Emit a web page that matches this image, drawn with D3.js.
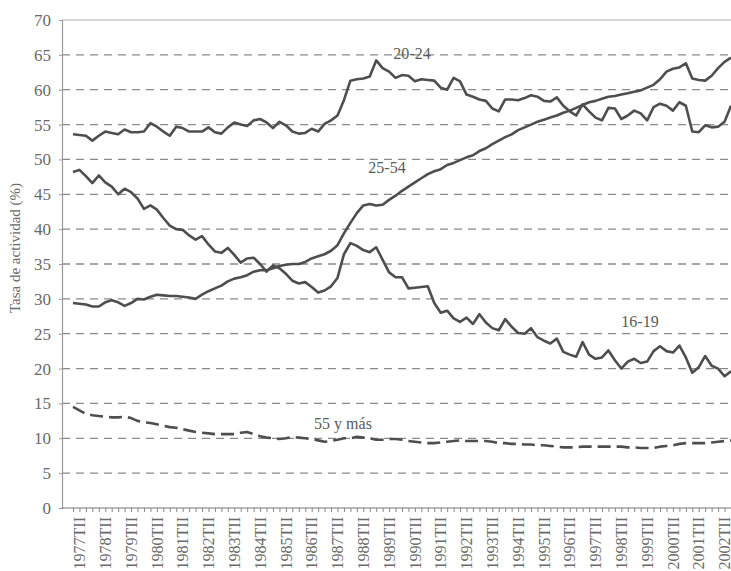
<!DOCTYPE html>
<html>
<head>
<meta charset="utf-8">
<script src="https://cdn.jsdelivr.net/npm/d3@7/dist/d3.min.js"></script>
<style>
  body { margin: 0; background: #fff; }
  svg { display: block; font-family: "Liberation Serif", "DejaVu Serif", serif; }
</style>
</head>
<body>
<svg id="chart"></svg>
<script>
/* quarters: 1977TII .. 2002TIV */
var START_YEAR = 1977, END_YEAR = 2002;
var QUARTER_NAMES = ["TI", "TII", "TIII", "TIV"];
var TICK_LABELS = ["1977TII", "1978TII", "1979TII", "1980TII", "1981TII", "1982TII", "1983TII",
    "1984TII", "1985TII", "1986TII", "1987TII", "1988TII", "1989TII", "1990TII", "1991TII",
    "1992TII", "1993TII", "1994TII", "1995TII", "1996TII", "1997TII", "1998TII", "1999TII",
    "2000TII", "2001TII", "2002TII"];
var Y_TICKS = [0, 5, 10, 15, 20, 25, 30, 35, 40, 45, 50, 55, 60, 65, 70];

var S_20_24 = [53.6, 53.5, 53.4, 52.7, 53.4, 54.0, 53.8, 53.6, 54.3, 53.9, 53.9, 54.0, 55.2, 54.7, 54.0, 53.4,
    54.7, 54.5, 54.0, 54.0, 54.0, 54.6, 53.9, 53.7, 54.6, 55.3, 55.0, 54.8, 55.6, 55.8, 55.3, 54.5,
    55.4, 54.9, 54.0, 53.7, 53.8, 54.4, 54.0, 55.1, 55.6, 56.3, 58.5, 61.3, 61.5, 61.6, 61.9, 64.2,
    63.1, 62.6, 61.7, 62.1, 62.0, 61.2, 61.5, 61.4, 61.3, 60.3, 60.0, 61.7, 61.2, 59.3, 59.0, 58.6,
    58.4, 57.3, 56.9, 58.6, 58.6, 58.5, 58.8, 59.2, 59.0, 58.4, 58.3, 58.9, 57.7, 56.9, 56.3, 57.9,
    56.9, 56.0, 55.6, 57.4, 57.3, 55.8, 56.3, 57.0, 56.6, 55.6, 57.5, 58.0, 57.7, 57.0, 58.2, 57.7,
    54.0, 53.9, 54.9, 54.6, 54.7, 55.4, 57.7];

var S_25_54 = [29.4, 29.3, 29.2, 28.9, 28.9, 29.5, 29.8, 29.5, 29.0, 29.4, 30.0, 29.9, 30.3, 30.6, 30.5, 30.4,
    30.4, 30.3, 30.2, 30.0, 30.6, 31.1, 31.5, 31.9, 32.5, 32.9, 33.1, 33.4, 33.9, 34.1, 34.1, 34.4,
    34.7, 34.9, 35.0, 35.0, 35.3, 35.8, 36.1, 36.4, 36.9, 37.7, 39.4, 40.9, 42.3, 43.4, 43.6, 43.4,
    43.5, 44.2, 44.8, 45.5, 46.1, 46.7, 47.3, 47.9, 48.3, 48.6, 49.2, 49.5, 49.9, 50.3, 50.6, 51.2,
    51.6, 52.2, 52.7, 53.2, 53.6, 54.2, 54.6, 55.0, 55.4, 55.7, 56.0, 56.3, 56.7, 57.0, 57.4, 57.8,
    58.2, 58.4, 58.7, 59.0, 59.1, 59.3, 59.5, 59.7, 59.9, 60.3, 60.7, 61.5, 62.6, 63.0, 63.2, 63.8,
    61.6, 61.4, 61.3, 62.0, 63.1, 64.0, 64.6];

var S_16_19 = [48.2, 48.5, 47.6, 46.6, 47.7, 46.7, 46.1, 45.0, 45.8, 45.3, 44.4, 42.9, 43.4, 42.8, 41.6, 40.5,
    40.0, 39.9, 39.1, 38.5, 39.0, 37.8, 36.8, 36.6, 37.3, 36.3, 35.2, 35.8, 35.9, 35.0, 33.9, 34.8,
    34.4, 33.6, 32.6, 32.2, 32.4, 31.7, 30.9, 31.2, 31.8, 33.0, 36.4, 38.0, 37.6, 37.0, 36.7, 37.4,
    35.6, 33.8, 33.1, 33.1, 31.5, 31.6, 31.7, 31.8, 29.4, 28.0, 28.3, 27.2, 26.7, 27.3, 26.4, 27.8,
    26.6, 25.8, 25.5, 27.1, 26.0, 25.1, 25.0, 25.8, 24.5, 24.0, 23.6, 24.3, 22.4, 22.0, 21.7, 23.8,
    22.0, 21.4, 21.6, 22.6, 21.2, 20.0, 21.0, 21.4, 20.8, 21.0, 22.5, 23.2, 22.5, 22.3, 23.3, 21.6,
    19.4, 20.2, 21.8, 20.4, 20.0, 18.9, 19.6];

var S_55_MAS = [14.5, 14.0, 13.5, 13.3, 13.2, 13.1, 13.0, 13.0, 13.1, 12.9, 12.5, 12.3, 12.2, 12.0, 11.8, 11.6,
    11.5, 11.3, 11.1, 10.9, 10.8, 10.7, 10.6, 10.6, 10.6, 10.6, 10.8, 10.9, 10.6, 10.3, 10.1, 10.0,
    9.9, 10.0, 10.2, 10.1, 10.0, 9.9, 9.7, 9.5, 9.6, 9.8, 10.0, 10.0, 10.2, 10.1, 10.0, 9.8,
    9.8, 9.9, 9.9, 9.8, 9.6, 9.5, 9.4, 9.3, 9.3, 9.4, 9.5, 9.6, 9.7, 9.6, 9.6, 9.6,
    9.6, 9.5, 9.3, 9.3, 9.2, 9.2, 9.1, 9.1, 9.0, 9.0, 8.9, 8.8, 8.7, 8.7, 8.7, 8.8,
    8.8, 8.8, 8.8, 8.8, 8.8, 8.8, 8.7, 8.7, 8.6, 8.6, 8.6, 8.8, 8.9, 9.0, 9.2, 9.3,
    9.3, 9.3, 9.3, 9.4, 9.5, 9.6, 9.7];

var SERIES_NAMES = ["20-24", "25-54", "16-19", "55 y más"];

var chartW = 731, chartH = 571;
var plotLeft = 62, plotTop = 20, plotBottom = 508;

// build the quarter categories
var quarters = [];
for (var yr = START_YEAR; yr <= END_YEAR; yr++) {
    for (var q = 0; q < 4; q++) {
        if (yr == START_YEAR && q == 0) continue;
        quarters.push(yr + QUARTER_NAMES[q]);
    }
}

var svg = d3.select("#chart").attr("width", chartW).attr("height", chartH);

var x = d3.scalePoint().domain(quarters).range([73, 731]);
var yScale = d3.scaleLinear().domain([0, 70]).range([plotBottom, plotTop]);

// horizontal dashed grid
svg.append("g").selectAll("line")
    .data(Y_TICKS.filter(function(d) { return d > 0 && d < 70; }))
    .enter().append("line")
    .attr("x1", plotLeft).attr("x2", chartW)
    .attr("y1", function(d) { return yScale(d); })
    .attr("y2", function(d) { return yScale(d); })
    .attr("stroke", "#8a8a8a").attr("stroke-width", 1.3)
    .attr("stroke-dasharray", "8,6");

// top border
svg.append("line")
    .attr("x1", plotLeft).attr("x2", chartW)
    .attr("y1", yScale(70)).attr("y2", yScale(70))
    .attr("stroke", "#b0b0b0").attr("stroke-width", 1.2);

// y axis
var yAxis = svg.append("g").attr("transform", "translate(" + plotLeft + ",0)")
    .call(d3.axisLeft(yScale).tickValues(Y_TICKS).tickSize(3).tickPadding(8));
yAxis.select(".domain").attr("stroke", "#999").attr("stroke-width", 1.2);
yAxis.selectAll(".tick line").attr("stroke", "#999");
yAxis.selectAll("text").attr("fill", "#6a6a6a").style("font-size", "17px")
    .style("font-family", "Liberation Serif, serif");

// x axis: tick every quarter, label on TII only
var xAxis = svg.append("g").attr("transform", "translate(0," + plotBottom + ")")
    .call(d3.axisBottom(x).tickSize(4)
        .tickFormat(function(d) { return TICK_LABELS.indexOf(d) >= 0 ? d : ""; }));
xAxis.select(".domain").attr("d", "M" + plotLeft + ",0H" + chartW).attr("stroke", "#777").attr("stroke-width", 1.2);
xAxis.selectAll(".tick line").attr("stroke", "#888");
xAxis.selectAll("text")
    .attr("transform", "rotate(-90)")
    .attr("x", -9).attr("y", 6).attr("dy", "0.35em")
    .attr("text-anchor", "end")
    .attr("fill", "#6a6a6a")
    .style("font-size", "16px")
    .style("font-family", "Liberation Serif, serif");

// y title
svg.append("text")
    .attr("transform", "translate(20,248) rotate(-90)")
    .attr("text-anchor", "middle")
    .attr("fill", "#6a6a6a")
    .style("font-size", "15px")
    .text("Tasa de actividad (%)");

var line = d3.line()
    .x(function(d, i) { return x(quarters[i]); })
    .y(function(d) { return yScale(d); });

var lines = [
    {values: S_20_24, dash: null},
    {values: S_25_54, dash: null},
    {values: S_16_19, dash: null},
    {values: S_55_MAS, dash: "13,6"}
];

svg.append("g").selectAll("path")
    .data(lines)
    .enter().append("path")
    .attr("d", function(d) { return line(d.values); })
    .attr("fill", "none")
    .attr("stroke", "#4e4e4e")
    .attr("stroke-width", 2.6)
    .attr("stroke-linejoin", "round")
    .attr("stroke-dasharray", function(d) { return d.dash; });

// series labels
var labelPos = [[412, 53], [387, 167], [640, 321], [343, 423]];
svg.append("g").selectAll("text")
    .data(SERIES_NAMES)
    .enter().append("text")
    .attr("x", function(d, i) { return labelPos[i][0]; })
    .attr("y", function(d, i) { return labelPos[i][1]; })
    .attr("dy", "0.35em")
    .attr("text-anchor", "middle")
    .attr("fill", "#5a5a5a")
    .style("font-size", "16px")
    .text(function(d) { return d; });
</script>
</body>
</html>
